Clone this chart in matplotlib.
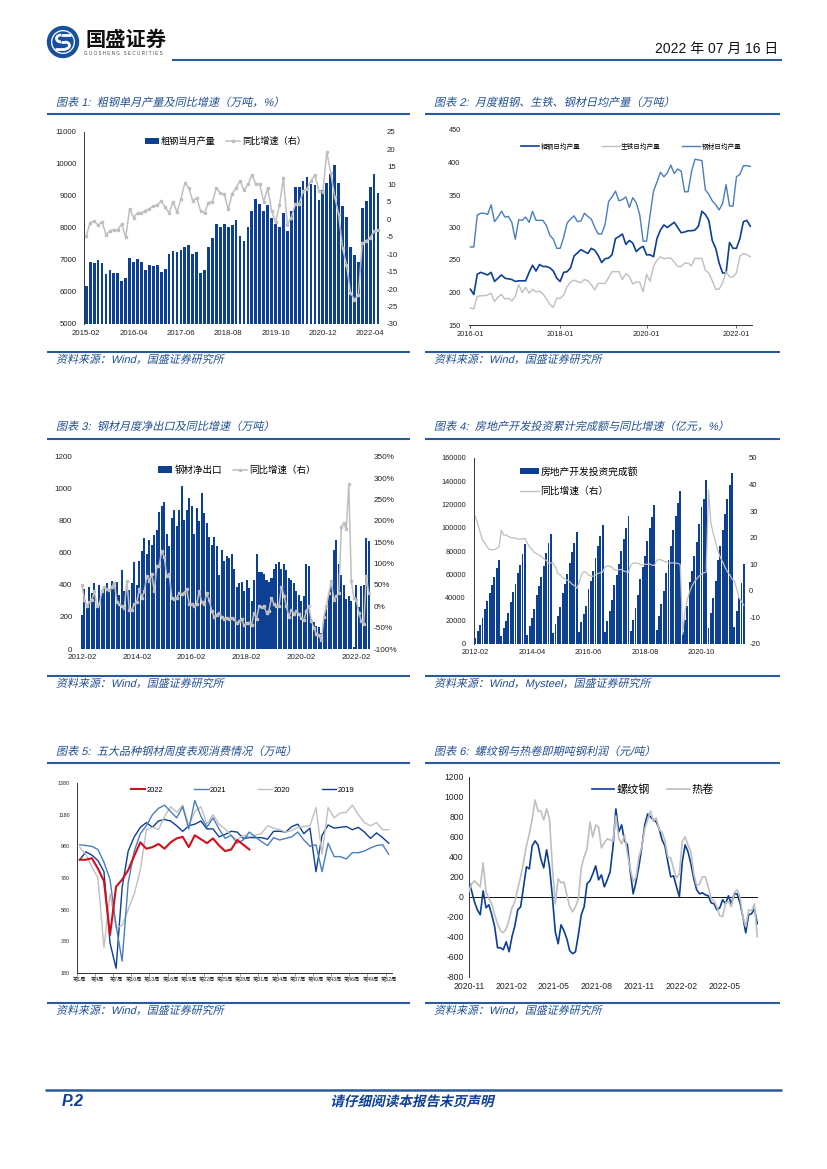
import numpy as np
import matplotlib
matplotlib.use('Agg')
import matplotlib.pyplot as plt
from matplotlib.patches import Arc, Circle
from matplotlib.patheffects import AbstractPathEffect
from matplotlib.transforms import Affine2D

plt.rcParams['font.family'] = ['Liberation Sans', 'Noto Sans CJK SC']
plt.rcParams['axes.unicode_minus'] = False

DARK = '#0d3f92'
MID = '#4a7ebb'
GREY = '#bfbfbf'
RED = '#d2101c'
RULE = '#2a5a9e'
TITLE = '#1f4e8c'

# chart 1
c1_bars = [6180,6950,6900,7000,6900,6570,6700,6600,6600,6330,
           6450,7070,6950,7040,6950,6700,6850,6820,6850,6630,
           6720,7190,7290,7240,7320,7410,7470,7190,7250,6600,
           6690,7410,7680,8110,8030,8130,8030,8100,8260,7760,
           7590,8030,8520,8920,8760,8540,8730,8300,8130,8040,
           8460,7920,8520,9270,9270,9470,9600,9380,9350,8880,
           9200,9420,9700,9980,9420,8700,8330,7400,7170,6940,
           8640,8840,9290,9700,9090]
c1_line = [-4.7,-1,-0.5,-1.7,-0.7,-4.4,-3.3,-3,-3,-1.3,
           -5.2,3,0.5,1.8,1.8,2.5,3,3.8,4,5.2,
           3.5,1.8,5,2,5.7,10.3,9,5.3,6.2,2.4,
           1.8,4.8,5,9,7.5,7.2,2.8,7.3,9,11,
           8.3,10,12.7,10.2,10,5,9,2.5,-0.8,4,
           11.8,-1.5,0.5,4.3,4.5,8,8.8,11,12.7,8,
           7.8,19.3,13.3,6.5,1.5,-8.2,-13,-21,-23,-21.8,
           -6.8,-6.3,-5.3,-3.5,-3.1]
c1_dates = ['2015-02','2016-04','2017-06','2018-08','2019-10','2020-12','2022-04']

# chart 2
c2_crude = [205,197,228,231,229,227,231,217,222,227,
            222,221,220,217,218,218,218,231,242,233,
            243,240,240,238,233,222,217,231,232,238,
            256,261,266,263,260,268,265,257,246,252,
            253,258,283,286,290,274,280,276,263,268,
            271,258,258,255,283,296,304,300,304,308,
            300,292,293,295,295,296,302,325,320,311,
            280,268,245,230,230,277,268,268,283,309,
            311,302]
c2_iron = [176,175,194,195,195,196,199,186,193,197,
           190,191,187,194,212,200,208,199,205,201,
           202,198,190,182,177,191,191,196,209,216,
           219,217,215,220,218,212,204,214,214,214,
           223,232,232,232,220,229,225,213,216,216,
           201,228,217,240,250,255,252,253,253,247,
           240,240,245,245,241,253,252,253,234,230,
           218,205,205,215,232,224,224,230,256,260,
           258,255]
c2_product = [270,270,319,322,322,320,335,309,316,325,
              316,317,308,282,312,311,316,308,325,311,
              311,311,303,288,282,268,268,285,307,313,
              318,309,310,322,317,313,300,290,290,305,
              340,347,356,341,343,347,331,346,338,320,
              279,279,319,356,370,385,378,384,396,383,
              390,387,355,355,386,405,404,403,358,351,
              341,335,327,337,366,333,333,378,382,395,
              395,394]
c2_dates = ['2016-01','2018-01','2020-01','2022-01']

# chart 3
c3_bars = [215,375,265,390,350,410,270,400,360,395,410,
           360,425,420,420,340,490,360,400,370,410,540,
           400,550,610,690,590,680,650,710,745,855,895,
           915,720,645,820,870,770,870,1020,805,870,945,
           890,720,880,800,975,850,785,700,650,700,640,
           460,620,550,580,565,595,500,390,410,420,360,
           430,380,300,430,590,480,480,470,430,420,440,
           500,530,540,500,530,490,440,430,410,360,340,
           300,330,530,520,190,170,145,140,100,190,250,
           340,400,620,680,530,460,400,310,330,300,10,
           400,260,395,400,695,675]
c3_line = [50,15,0,10,15,35,0,5,35,45,40,
           38,45,55,10,5,0,-5,60,-8,-8,5,
           10,40,20,35,70,60,75,35,95,95,130,
           115,70,75,20,18,20,30,28,32,40,5,
           5,0,5,35,10,5,30,15,-10,-25,-20,
           -15,-25,-30,-28,-30,-27,-30,-40,-35,-30,-45,
           -40,-38,-45,-15,-30,0,-2,0,-15,-10,20,
           5,0,0,45,25,0,-25,-8,-18,-12,-18,
           -28,-33,-10,0,-35,-50,-65,-68,-80,-25,0,
           30,58,15,25,30,185,195,180,285,60,20,
           15,-15,-35,-42,70,30]
c3_dates = ['2012-02','2014-02','2016-02','2018-02','2020-02','2022-02']
c3_right = ['-100%','-50%','0%','50%','100%','150%','200%','250%','300%','350%']

# chart 4
c4_bars = [5500,11000,16000,22000,30500,37000,43500,51000,57500,65500,72000,
           6800,13500,19500,27000,36500,45000,52000,61000,68000,77000,86000,
           8000,15500,22000,30500,42000,50000,58000,67000,78000,87000,95000,
           9500,17000,24000,32000,44000,52000,60000,70000,79000,87000,96000,
           9900,19000,26000,33000,47000,54000,63000,74000,84000,93000,102500,
           10500,20000,28000,38000,50500,59000,69000,80000,90000,100000,110000,
           11000,21000,31000,42000,56000,66000,76000,89000,99500,109000,120000,
           12000,24000,34000,46000,61000,72000,84000,98000,110000,121000,132000,
           10000,21000,33000,53000,63000,76000,88000,103000,118000,125000,141000,
           14000,27000,40000,54000,72000,84000,98000,112000,125000,137000,147000,
           14500,28000,39500,52500,69000]
c4_line = [28,25,22,19,18,16.5,15.5,15.5,15.5,16,16.5,
           22.8,21,21,20.5,20,20,19.8,19.5,19.5,19.5,19.8,
           18,16.5,15.5,14.5,14,13.5,13,12,11.5,10.5,10.5,
           10.5,9,6.5,6,5,4.5,4,3.5,2.5,2,1,
           3,6,7.2,7,6,5.5,5.5,6,6.5,6.8,7,
           9,9.3,9.3,8.8,8,7.7,8,8,7.5,7.2,7,
           9.7,10.5,10.4,10.4,10,9.7,10,10,10.1,9.7,9.5,
           11.5,11.8,11.6,11.2,10.9,10.5,10.5,10.5,10.5,10.3,9.9,
           -16.3,-7.7,-3.3,-0.3,1.9,3.4,4.6,5.6,6.3,6.8,7,
           38,25.6,21.6,18.3,15,12.7,10.9,8.9,7.2,6.1,4.4,
           3.7,0.7,-2.7,-4,-5.4]
c4_dates = ['2012-02','2014-04','2016-06','2018-08','2020-10']

# chart 5
c5_2022 = [895,895,905,840,760,420,725,770,830,920,
           1005,965,975,995,965,1005,1030,1040,975,1050,
           1025,1000,1030,985,950,960,1020,990,960]
c5_2021 = [990,985,980,960,880,770,480,255,750,950,
           1060,1110,1180,1220,1240,1200,1160,1230,1090,1270,
           1170,1100,1160,1090,1030,1050,1000,1020,1070,1040,
           1010,985,1035,1020,1030,1040,1070,1020,980,990,
           820,1000,915,915,900,940,940,950,970,985,
           990,930]
c5_2020 = [975,930,850,780,340,680,465,480,580,680,
           830,1085,1100,1085,1170,1230,1195,1240,1110,1200,
           1230,1120,1180,1120,1090,1050,1020,1050,1040,1050,
           1060,1110,1095,1085,1070,1080,1100,1105,1110,1225,
           930,1225,1160,1190,1195,1240,1180,1130,1110,1130,
           1085,1085]
c5_2019 = [895,945,925,890,820,370,210,720,950,1040,
           1100,1130,1100,1140,1150,1140,1110,1075,1110,1120,
           1140,1090,1090,1040,1055,1075,1070,1030,1035,1035,
           1035,1025,1075,1075,1070,1105,1120,1060,1095,820,
           1050,1115,1095,1100,1105,1085,1100,1070,1030,1065,
           1035,1000]
c5_weeks = list(range(1, 53, 3))

# chart 6
c6_rebar = [160,60,-50,-130,-180,60,-110,-80,-180,-300,
            -510,-510,-530,-450,-550,-400,-290,-130,-100,100,
            300,280,510,560,520,380,290,470,300,0,
            -350,-470,-280,-340,-420,-540,-570,-550,-380,-180,
            -100,130,160,230,310,170,220,100,170,250,
            500,880,650,720,560,520,250,30,150,310,
            500,720,830,800,770,750,680,570,510,350,
            200,210,100,0,350,520,450,330,180,70,
            30,40,20,10,-60,-70,-130,-110,-30,-70,
            10,-70,30,30,-60,-200,-360,-180,-170,-120,
            -270]
c6_hrc = [50,130,160,130,100,340,50,-20,-70,-180,
          -270,-340,-360,-320,-230,-110,-50,80,200,350,
          510,630,780,970,860,860,770,880,780,300,
          -70,180,140,150,20,-100,-150,-100,-20,290,
          400,480,750,600,720,700,490,540,580,570,
          560,810,590,530,620,430,280,150,200,400,
          500,680,770,860,760,790,670,650,560,400,
          390,280,190,230,560,600,520,450,230,110,
          130,200,200,100,-20,-40,-100,-190,-200,-60,
          -50,-100,40,70,0,-200,-300,-130,-140,-70,
          -400]
c6_dates = ['2020-11','2021-02','2021-05','2021-08','2021-11','2022-02','2022-05']

W, H = 827, 1169
fig = plt.figure(figsize=(W / 100, H / 100), dpi=100, facecolor='white')


def px_axes(left, top, right, bottom):
    return fig.add_axes([left / W, 1 - bottom / H, (right - left) / W, (bottom - top) / H])


class Slant(AbstractPathEffect):
    # the report uses a fake italic for the Chinese text
    def __init__(self, y_px):
        super().__init__()
        self.y0 = H - y_px

    def draw_path(self, renderer, gc, tpath, affine, rgbFace=None):
        skew = Affine2D().translate(0, -self.y0).skew_deg(13, 0).translate(0, self.y0)
        renderer.draw_path(gc, tpath, affine + skew, rgbFace)


page = fig.add_axes([0, 0, 1, 1])
page.set_xlim(0, W)
page.set_ylim(H, 0)
page.axis('off')


def slanted(x, y, s, size, color=TITLE, **kw):
    page.text(x, y, s, fontsize=size, color=color, va='baseline',
              path_effects=[Slant(y)], **kw)


def frame(x0, x1, title, source, y_title, y_rule, y_src_rule):
    page.plot([x0, x1], [y_rule, y_rule], color=RULE, lw=1.5, solid_capstyle='butt')
    page.plot([x0, x1], [y_src_rule, y_src_rule], color=RULE, lw=1.5, solid_capstyle='butt')
    slanted(x0 + 9, y_title + 4, title, 8)
    slanted(x0 + 9, y_src_rule + 11, source, 7.9)


src1 = '资料来源：Wind，国盛证券研究所'
src2 = '资料来源：Wind，Mysteel，国盛证券研究所'
frame(47, 410, '图表 1:  粗钢单月产量及同比增速（万吨，%）', src1, 102, 114, 352)
frame(425, 780, '图表 2:  月度粗钢、生铁、钢材日均产量（万吨）', src1, 102, 114, 352)
frame(47, 410, '图表 3:  钢材月度净出口及同比增速（万吨）', src1, 426, 439, 676)
frame(425, 780, '图表 4:  房地产开发投资累计完成额与同比增速（亿元，%）', src2, 426, 439, 676)
frame(47, 410, '图表 5:  五大品种钢材周度表观消费情况（万吨）', src1, 751, 763, 1003)
frame(425, 780, '图表 6:  螺纹钢与热卷即期吨钢利润（元/吨）', src1, 751, 763, 1003)

# header, logo is a ring with a white S
LOGO = '#17509f'
page.add_patch(Circle((63, 42), 15.5, color=LOGO))
page.add_patch(Circle((63, 42), 12, fc='white', ec='none'))
page.add_patch(Circle((63, 42), 10, color=LOGO))
page.add_patch(Arc((61, 38.5), 9, 7, theta1=90, theta2=270, color='white', lw=2))
page.add_patch(Arc((65, 45.5), 9, 7, theta1=-90, theta2=90, color='white', lw=2))
page.plot([61, 71], [35, 35], color='white', lw=2, solid_capstyle='butt')
page.plot([61, 65], [42, 42], color='white', lw=2, solid_capstyle='butt')
page.plot([55, 65], [49, 49], color='white', lw=2, solid_capstyle='butt')
page.text(85, 46, '国盛证券', fontsize=14.6, weight='bold', color='#111111', va='baseline')
page.text(84, 55, 'G U O S H E N G   S E C U R I T I E S', fontsize=3.3, color='#444444', va='baseline')
page.plot([172, 782], [60, 60], color=RULE, lw=1.5, solid_capstyle='butt')
page.text(778, 53, '2022 年 07 月 16 日', fontsize=10, color='#111111', ha='right', va='baseline')

# footer
page.plot([45, 782], [1090, 1090], color=RULE, lw=1.8, solid_capstyle='butt')
page.text(62, 1106, 'P.2', fontsize=11.5, weight='bold', style='italic', color=DARK, va='baseline')
slanted(412, 1106, '请仔细阅读本报告末页声明', 9.8, color=DARK, weight='bold', ha='center')


def style_ticks(ax, size):
    ax.tick_params(axis='both', labelsize=size, length=0, colors='#222222')
    for s in ax.spines.values():
        s.set_visible(False)
        s.set_linewidth(0.7)
        s.set_color('#333333')


def add_legend(ax, handles, labels, anchor, size, ncol, loc='upper left', **kw):
    ax.legend(handles, labels, loc=loc, bbox_to_anchor=anchor, ncol=ncol, frameon=False,
              prop={'family': ['Liberation Sans', 'Noto Sans CJK SC'], 'size': size},
              borderpad=0, borderaxespad=0, handletextpad=0.2, **kw)


# chart 1
ax = px_axes(84.3, 132, 380, 324)
x = np.arange(len(c1_bars))
b = ax.bar(x, c1_bars, width=0.7, color=DARK)
ax.set_xlim(-0.5, len(x) - 0.5)
ax.set_ylim(5000, 11000)
ax.set_yticks(range(5000, 11001, 1000))
ax.set_xticks(x[::12])
ax.set_xticklabels(c1_dates)
style_ticks(ax, 5.6)
ax.tick_params(axis='y', pad=5.5)
ax.tick_params(axis='x', pad=4)
ax.spines['left'].set_visible(True)
ax2 = ax.twinx()
l, = ax2.plot(np.arange(len(c1_line)), c1_line, color=GREY, lw=1.1, marker='s', ms=1.8)
ax2.set_ylim(-30, 25)
ax2.set_yticks(range(-30, 26, 5))
style_ticks(ax2, 5.6)
ax2.tick_params(axis='y', pad=5)
add_legend(ax2, [b, l], ['粗钢当月产量', '同比增速（右）'], (0.205, 0.975), 6.6, 2,
           handlelength=1.5, columnspacing=1.2)

# chart 2
ax = px_axes(469, 130, 752, 325)
x = np.arange(len(c2_crude))
l1, = ax.plot(x, c2_crude, color=DARK, lw=1.2)
l2, = ax.plot(x, c2_iron, color=GREY, lw=1.0)
l3, = ax.plot(x, c2_product, color=MID, lw=1.0)
ax.set_xlim(-0.39, 81.5)
ax.set_ylim(150, 450)
ax.set_yticks(range(150, 451, 50))
ax.set_xticks([0, 26, 51, 77])
ax.set_xticklabels(c2_dates)
style_ticks(ax, 5.3)
ax.spines['bottom'].set_visible(True)
ax.tick_params(axis='x', length=2, width=0.5, pad=2.5)
ax.tick_params(axis='y', pad=6)
add_legend(ax, [l1, l2, l3], ['粗钢日均产量', '生铁日均产量', '钢材日均产量'], (0.185, 0.93), 4.8, 3,
           handlelength=2.7, columnspacing=3.2)

# chart 3
ax = px_axes(80.7, 456.7, 370, 649)
x = np.arange(len(c3_bars))
b = ax.bar(x, c3_bars, width=0.82, color=DARK)
ax.set_xlim(-0.5, len(x) - 0.5)
ax.set_ylim(0, 1200)
ax.set_yticks(range(0, 1201, 200))
ax.set_xticks(x[::22])
ax.set_xticklabels(c3_dates)
style_ticks(ax, 5.8)
ax.tick_params(axis='y', pad=6)
ax.tick_params(axis='x', pad=3.5)
ax2 = ax.twinx()
l, = ax2.plot(np.arange(len(c3_line)), c3_line, color=GREY, lw=1.1, marker='s', ms=1.8)
ax2.set_ylim(-100, 350)
ax2.set_yticks(range(-100, 351, 50))
ax2.set_yticklabels(c3_right)
style_ticks(ax2, 5.9)
ax2.tick_params(axis='y', pad=2.5)
add_legend(ax2, [b, l], ['钢材净出口', '同比增速（右）'], (0.268, 0.955), 6.8, 2,
           handlelength=1.5, columnspacing=1.2)

# chart 4
ax = px_axes(474.3, 458, 745, 644)
x = np.arange(len(c4_bars))
b = ax.bar(x, c4_bars, width=0.8, color=DARK)
ax.set_xlim(-0.5, len(x) - 0.5)
ax.set_ylim(0, 160000)
ax.set_yticks(range(0, 160001, 20000))
ax.set_xticks(x[::24])
ax.set_xticklabels(c4_dates)
style_ticks(ax, 5.3)
ax.spines['left'].set_visible(True)
ax.tick_params(axis='y', pad=6)
ax.tick_params(axis='x', pad=3.5)
ax2 = ax.twinx()
l, = ax2.plot(np.arange(len(c4_line)), c4_line, color=GREY, lw=0.9)
ax2.set_ylim(-20, 50)
ax2.set_yticks(range(-20, 51, 10))
style_ticks(ax2, 5.5)
ax2.tick_params(axis='y', pad=3)
add_legend(ax2, [b, l], ['房地产开发投资完成额', '同比增速（右）'], (0.169, 0.955), 7, 1,
           handlelength=1.9, labelspacing=1.0)

# chart 5
ax = px_axes(76.7, 783, 391.7, 973)
weeks = np.arange(1, len(c5_2021) + 1)
l19, = ax.plot(weeks, c5_2019, color=DARK, lw=1.0)
l20, = ax.plot(weeks, c5_2020, color=GREY, lw=1.0)
l21, = ax.plot(weeks, c5_2021, color=MID, lw=1.0)
l22, = ax.plot(np.arange(1, len(c5_2022) + 1), c5_2022, color=RED, lw=1.5)
ax.set_xlim(0.5, 52.5)
ax.set_ylim(180, 1380)
ax.set_yticks(range(180, 1381, 200))
ax.set_xticks(c5_weeks)
ax.set_xticklabels(['第%d周' % w for w in c5_weeks])
ax.set_xticks([w - 0.5 for w in c5_weeks], minor=True)
style_ticks(ax, 3.8)
ax.tick_params(axis='x', which='minor', length=2, width=0.4, color='#555555')
ax.tick_params(axis='y', pad=5)
ax.tick_params(axis='x', which='major', pad=3)
ax.spines['left'].set_visible(True)
ax.spines['bottom'].set_visible(True)
add_legend(ax, [l22, l21, l20, l19], ['2022', '2021', '2020', '2019'], (0.171, 0.98), 5.4, 4,
           handlelength=1.9, columnspacing=4.2)

# chart 6
ax = px_axes(468.7, 777, 758.3, 976.7)
x = np.arange(len(c6_rebar))
l1, = ax.plot(x, c6_rebar, color=DARK, lw=1.2, zorder=3)
l2, = ax.plot(x, c6_hrc, color=GREY, lw=1.2, zorder=4)
ax.axhline(0, color='#111111', lw=0.7, zorder=2)
ax.set_xlim(0, 100.35)
ax.set_ylim(-800, 1200)
ax.set_yticks(range(-800, 1201, 200))
ax.set_xticks([i * 14.75 for i in range(len(c6_dates))])
ax.set_xticklabels(c6_dates)
style_ticks(ax, 6.2)
ax.spines['left'].set_visible(True)
ax.tick_params(axis='y', pad=3.5)
ax.tick_params(axis='x', pad=4)
add_legend(ax, [l1, l2], ['螺纹钢', '热卷'], (0.425, 0.965), 8, 2,
           handlelength=2, columnspacing=1.6)

fig.savefig('out.png', dpi=100)
